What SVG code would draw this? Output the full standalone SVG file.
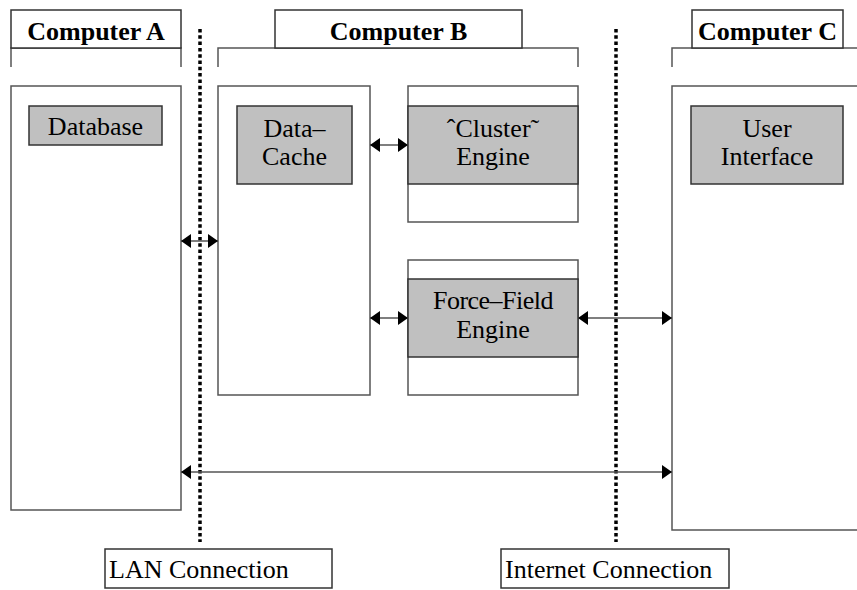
<svg xmlns="http://www.w3.org/2000/svg" width="857" height="590" viewBox="0 0 857 590">
<style>
.box{fill:#fff;stroke:#555;stroke-width:1.5}
.hdr{fill:#fff;stroke:#333;stroke-width:1.5}
.br{fill:none;stroke:#555;stroke-width:1.5}
.comp{fill:#c0c0c0;stroke:#333;stroke-width:1.5}
text{font-family:'Liberation Serif','Times New Roman',Times,'DejaVu Serif',serif;font-size:26px;fill:#000}
.b{font-weight:bold}
.m{text-anchor:middle}
.con{stroke:#555;stroke-width:1.3;fill:none;marker-start:url(#ah);marker-end:url(#ah)}
.dot{stroke:#000;stroke-width:3.5;stroke-dasharray:3.5 2.8;fill:none}
</style>
<defs>
<marker id="ah" markerUnits="userSpaceOnUse" markerWidth="11" markerHeight="14" refX="10" refY="7" orient="auto-start-reverse">
<path d="M0,0 L10,7 L0,14 z" fill="#000"/>
</marker>
</defs>
<rect x="0" y="0" width="857" height="590" fill="#fff"/>
<g id="separators">
<line class="dot" x1="200" y1="29" x2="200" y2="542"/>
<line class="dot" x1="616" y1="29" x2="616" y2="542"/>
</g>
<g id="computerA">
<polyline class="br" points="11,67 11,48 181,48 181,67"/>
<rect class="hdr" x="11" y="10" width="170" height="38"/>
<text class="b m" x="96" y="40" font-family="Liberation Serif">Computer A</text>
<rect class="box" x="11" y="86" width="170" height="424"/>
</g>
<g id="database">
<rect class="comp" x="29" y="106" width="133" height="39"/>
<text class="m" x="95.5" y="135" font-family="Liberation Serif">Database</text>
</g>
<g id="computerB">
<polyline class="br" points="218,67 218,48 578,48 578,67"/>
<rect class="hdr" x="275" y="10" width="247" height="38"/>
<text class="b m" x="398.5" y="40" font-family="Liberation Serif">Computer B</text>
</g>
<g id="datacache">
<rect class="box" x="218" y="86" width="152" height="309"/>
<rect class="comp" x="237" y="106" width="115" height="78"/>
<text class="m" x="294.5" y="137" font-family="Liberation Serif">Data–</text>
<text class="m" x="294.5" y="165" font-family="Liberation Serif">Cache</text>
</g>
<g id="cluster">
<rect class="box" x="408" y="86" width="170" height="136"/>
<rect class="comp" x="408" y="106" width="170" height="78"/>
<text class="m" x="493" y="137" font-family="Liberation Serif">ˆCluster˜</text>
<text class="m" x="493" y="165" font-family="Liberation Serif">Engine</text>
</g>
<g id="forcefield">
<rect class="box" x="408" y="260" width="170" height="135"/>
<rect class="comp" x="408" y="279" width="170" height="78"/>
<text class="m" x="493" y="309" font-family="Liberation Serif" letter-spacing="-0.5">Force–Field</text>
<text class="m" x="493" y="338" font-family="Liberation Serif">Engine</text>
</g>
<g id="computerC">
<polyline class="br" points="672,67 672,48 857,48"/>
<rect class="hdr" x="692" y="10" width="151" height="38"/>
<text class="b m" x="767.5" y="40" font-family="Liberation Serif">Computer C</text>
<polyline class="box" points="860,86 672,86 672,530 860,530"/>
</g>
<g id="userinterface">
<rect class="comp" x="691" y="106" width="152" height="78"/>
<text class="m" x="767" y="137" font-family="Liberation Serif">User</text>
<text class="m" x="767" y="165" font-family="Liberation Serif">Interface</text>
</g>
<g id="lanlabel">
<rect class="hdr" x="105" y="549" width="227" height="39"/>
<text x="109" y="578" font-family="Liberation Serif">LAN Connection</text>
</g>
<g id="internetlabel">
<rect class="hdr" x="501" y="549" width="228" height="39"/>
<text x="505" y="578" font-family="Liberation Serif">Internet Connection</text>
</g>
<g id="connectors">
<line class="con" x1="181" y1="241" x2="218" y2="241"/>
<line class="con" x1="370" y1="145" x2="408" y2="145"/>
<line class="con" x1="370" y1="318" x2="408" y2="318"/>
<line class="con" x1="578" y1="318" x2="672" y2="318"/>
<line class="con" x1="181" y1="472" x2="672" y2="472"/>
</g>
</svg>
